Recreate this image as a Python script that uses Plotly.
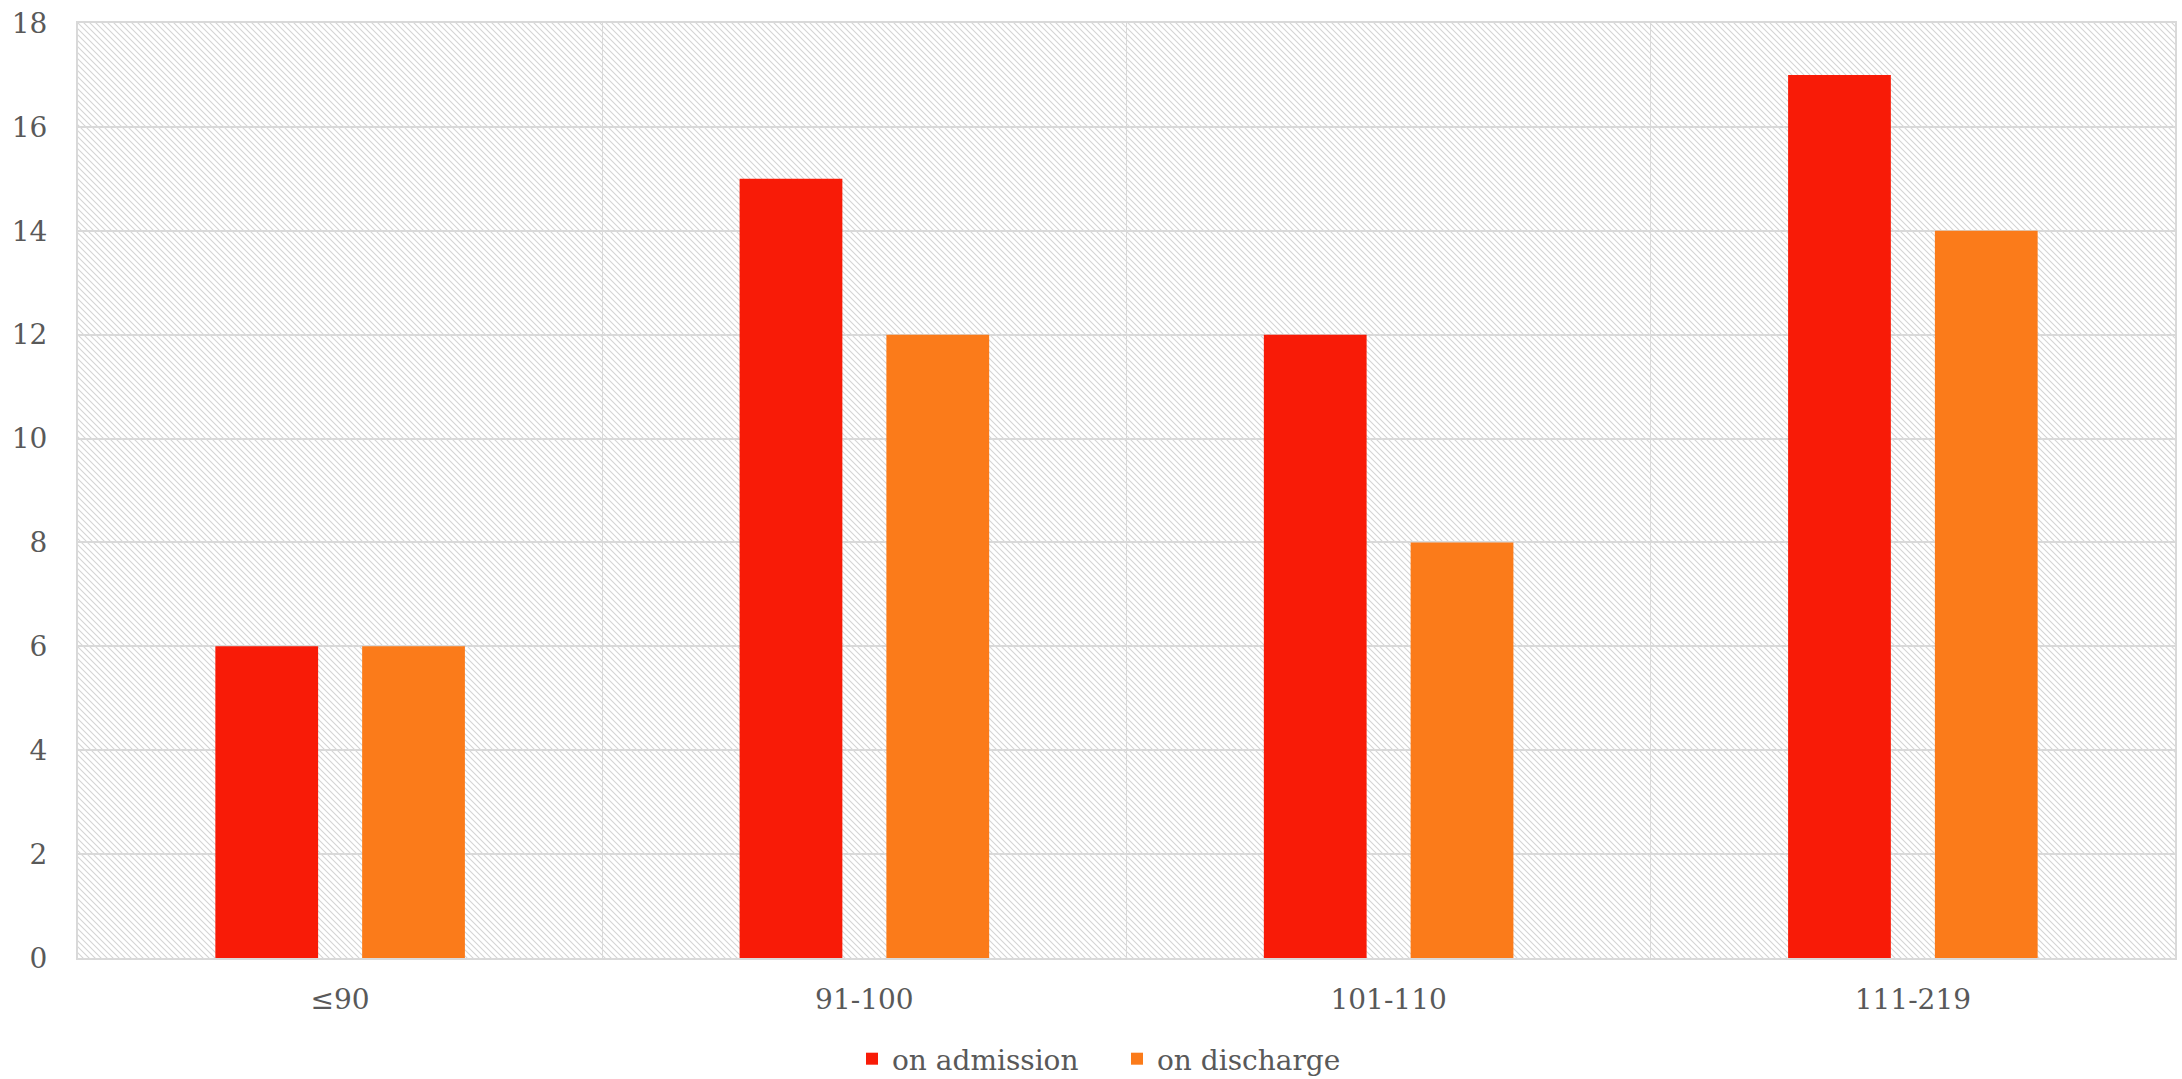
import base64
import plotly.graph_objects as go

categories = ["≤90", "91-100", "101-110", "111-219"]
on_admission = [6, 15, 12, 17]
on_discharge = [6, 12, 8, 14]
y_ticks = [0, 2, 4, 6, 8, 10, 12, 14, 16, 18]

W, H = 2182, 1079
ML, MR, MT, MB = 78, 7, 23, 121
PW, PH = W - ML - MR, H - MT - MB

svg = f'''<svg xmlns="http://www.w3.org/2000/svg" width="{PW}" height="{PH}" viewBox="0 0 {PW} {PH}" preserveAspectRatio="none">
<defs><pattern id="p" patternUnits="userSpaceOnUse" width="6" height="6">
<path d="M-1,-1 L7,7 M5,-1 L7,1 M-1,5 L1,7" stroke="#d4d4d4" stroke-width="1.1"/>
</pattern></defs>
<rect width="{PW}" height="{PH}" fill="#ffffff"/>
<rect width="{PW}" height="{PH}" fill="url(#p)"/>
</svg>'''
src = "data:image/svg+xml;base64," + base64.b64encode(svg.encode()).decode()

FONT = "DejaVu Serif"
TXT = "#595959"
GRID = "#d9d9d9"
FS = 28

fig = go.Figure()
fig.add_trace(go.Bar(x=categories, y=on_admission, name="on admission",
                     marker=dict(color="#f81b07", line=dict(width=0))))
fig.add_trace(go.Bar(x=categories, y=on_discharge, name="on discharge",
                     marker=dict(color="#fb7b1a", line=dict(width=0))))

fig.add_layout_image(dict(source=src, xref="x domain", yref="y domain",
                          x=0, y=1, sizex=1, sizey=1, xanchor="left", yanchor="top",
                          sizing="stretch", layer="below"))

fig.update_layout(
    width=W, height=H,
    margin=dict(l=ML, r=MR, t=MT, b=MB, autoexpand=False),
    paper_bgcolor="white",
    plot_bgcolor="rgba(0,0,0,0)",
    barmode="group", bargap=0.44, bargroupgap=0.30,
    font=dict(family=FONT, size=FS, color=TXT),
    showlegend=True,
    legend=dict(orientation="h", xref="container", x=852 / W, xanchor="left",
                yref="container", y=(H - 1059) / H, yanchor="middle",
                font=dict(family=FONT, size=FS, color=TXT),
                itemwidth=30, entrywidth=220, tracegroupgap=0),
    xaxis=dict(type="category", tickson="boundaries", showgrid=True, gridcolor=GRID,
               gridwidth=1, showline=True, linecolor=GRID, linewidth=2, mirror=True,
               ticks="", ticklabelstandoff=15, tickfont=dict(size=FS, color=TXT)),
    yaxis=dict(range=[0, 18], tickvals=y_ticks, showgrid=True, gridcolor=GRID,
               gridwidth=1.5, showline=True, linecolor=GRID, linewidth=2, mirror=True,
               zeroline=False, ticks="", ticklabelstandoff=23,
               tickfont=dict(size=FS, color=TXT)),
)

fig.write_html("out.html")
